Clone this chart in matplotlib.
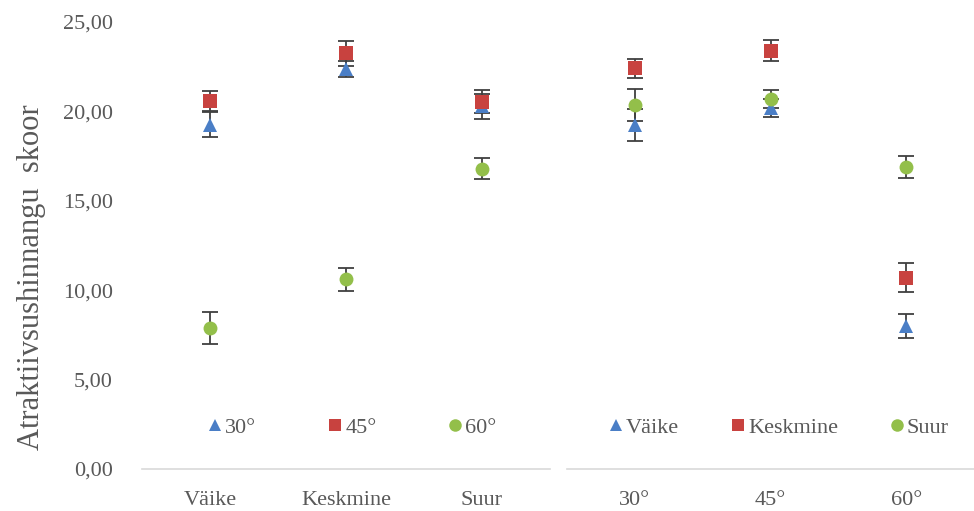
import matplotlib
matplotlib.use("Agg")
import matplotlib.pyplot as plt
from matplotlib.lines import Line2D

# group labels
sizes = ["Väike", "Keskmine", "Suur"]
angles = ["30°", "45°", "60°"]

# left panel: x = size, one series per angle
left_30 = [19.25, 22.35, 20.30]
left_45 = [20.60, 23.25, 20.55]
left_60 = [7.90, 10.60, 16.80]
left_30_err = [0.70, 0.45, 0.70]
left_45_err = [0.55, 0.70, 0.65]
left_60_err = [0.90, 0.65, 0.60]

# right panel: x = angle, one series per size
right_vaike = [19.25, 20.20, 8.00]
right_keskmine = [22.40, 23.40, 10.70]
right_suur = [20.35, 20.70, 16.90]
right_vaike_err = [0.90, 0.50, 0.65]
right_keskmine_err = [0.55, 0.60, 0.80]
right_suur_err = [0.90, 0.50, 0.60]

blue = "#4A7EC6"
red = "#C8423F"
green = "#93BF4A"
err_color = "#404040"
text_color = "#595959"
markers = ["^", "s", "o"]
colors = [blue, red, green]
msizes = [10.5, 10, 10]

plt.rcParams["font.family"] = ["Liberation Serif", "DejaVu Serif"]

fig = plt.figure(figsize=(9.74, 5.11), dpi=100)
W, H = 974, 511
ax_l = fig.add_axes([142 / W, 42 / H, 408 / W, 447 / H])
ax_r = fig.add_axes([567 / W, 42 / H, 407 / W, 447 / H])


def draw_panel(ax, cats, series, errs, names, colspace, leg_x):
    x = range(len(cats))
    handles = []
    for vals, e, m, c, ms, name in zip(series, errs, markers, colors, msizes, names):
        ax.errorbar(x, vals, yerr=e, fmt="none", ecolor=err_color,
                    elinewidth=1.3, capsize=5.5, capthick=1.3, zorder=2)
        ax.plot(x, vals, linestyle="none", marker=m, markersize=ms,
                color=c, markeredgewidth=0, zorder=3)
        handles.append(Line2D([], [], linestyle="none", marker=m,
                              markersize=9, color=c, markeredgewidth=0,
                              label=name))
    ax.set_xlim(-0.5, len(cats) - 0.5)
    ax.set_ylim(0, 25)
    ax.set_xticks(list(x))
    ax.set_xticklabels(cats, fontsize=16, color=text_color)
    ax.tick_params(axis="x", length=0, pad=16)
    for s in ["top", "right", "left"]:
        ax.spines[s].set_visible(False)
    ax.spines["bottom"].set_color("#D9D9D9")
    ax.spines["bottom"].set_linewidth(1.2)
    leg = ax.legend(handles=handles, loc="center", bbox_to_anchor=(leg_x, 2.3 / 25),
                    ncol=3, frameon=False, fontsize=16, handlelength=0.7,
                    handletextpad=0.1, columnspacing=colspace)
    for t in leg.get_texts():
        t.set_color(text_color)


draw_panel(ax_l, sizes, [left_30, left_45, left_60],
           [left_30_err, left_45_err, left_60_err], angles, 3.2, 0.515)
draw_panel(ax_r, angles, [right_vaike, right_keskmine, right_suur],
           [right_vaike_err, right_keskmine_err, right_suur_err], sizes, 2.3, 0.52)

ax_l.set_yticks([0, 5, 10, 15, 20, 25])
ax_l.set_yticklabels([f"{v:.2f}".replace(".", ",") for v in [0, 5, 10, 15, 20, 25]],
                     fontsize=16, color=text_color)
ax_l.tick_params(axis="y", length=0, pad=21)
ax_r.set_yticks([])

fig.text(32 / W, 1 - 277 / H, "Atraktiivsushinnangu  skoor", rotation=90,
         ha="center", va="center", fontsize=22, color=text_color)

fig.savefig("out.png", dpi=100)
